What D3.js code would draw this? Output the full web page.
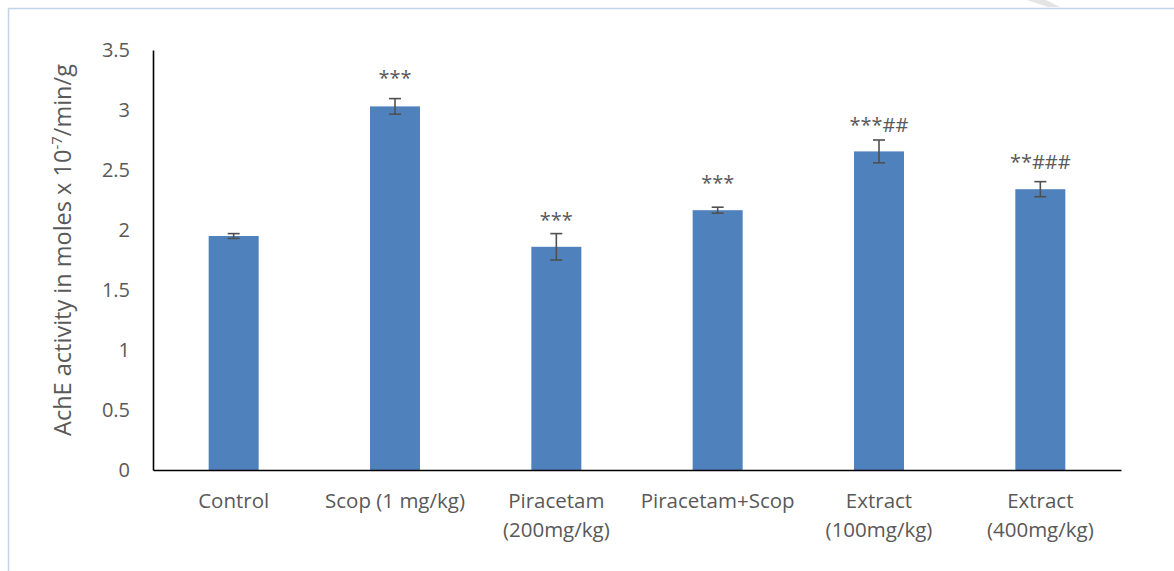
<!DOCTYPE html>
<html>
<head>
<meta charset="utf-8">
<script src="https://cdn.jsdelivr.net/npm/d3@7"></script>
<style>
  body { margin: 0; background: #fff; }
  text { font-family: "Open Sans", sans-serif; fill: #595959; }
</style>
</head>
<body>
<script>
var w = 1174;
var h = 571;

// data
var groups = [
  ["Control"],
  ["Scop (1 mg/kg)"],
  ["Piracetam", "(200mg/kg)"],
  ["Piracetam+Scop"],
  ["Extract", "(100mg/kg)"],
  ["Extract", "(400mg/kg)"]
];
var means = [1.95, 3.03, 1.86, 2.165, 2.655, 2.34];
var errs = [0.02, 0.065, 0.11, 0.025, 0.095, 0.063];
var marks = ["", "***", "***", "***", "***##", "**###"];
var markLevels = [0, 3.25, 2.07, 2.38, 2.86, 2.55];
var yTicks = [0, 0.5, 1, 1.5, 2, 2.5, 3, 3.5];

// plot area
var plotL = 153, plotR = 1121, plotT = 50, plotB = 470;

var svg = d3.select("body").append("svg")
  .attr("width", w)
  .attr("height", h);

// light frame of the figure box
svg.append("path")
  .attr("d", "M8.5,571 L8.5,8.5 L1174,8.5")
  .attr("fill", "none")
  .attr("stroke", "#c3d3e9")
  .attr("stroke-width", 1.5);

// faint diagonal mark at top right
svg.append("polygon")
  .attr("points", "1027,0 1046,0 1060,7 1048,7")
  .attr("fill", "#e4e4e4");

var x = d3.scaleBand()
  .domain(d3.range(groups.length))
  .range([plotL, plotR])
  .paddingInner(0.69)
  .paddingOuter(0.345);

var y = d3.scaleLinear()
  .domain([0, 3.5])
  .range([plotB, plotT]);

// bars
svg.append("g").selectAll("rect")
  .data(means)
  .enter()
  .append("rect")
  .attr("x", function(d, i) { return x(i); })
  .attr("y", function(d) { return y(d); })
  .attr("width", x.bandwidth())
  .attr("height", function(d) { return y(0) - y(d); })
  .attr("fill", "#4f81bd");

// error bars
var eb = svg.append("g").attr("stroke", "#505050").attr("stroke-width", 1.6);
means.forEach(function(m, i) {
  var cx = x(i) + x.bandwidth() / 2;
  var hi = y(m + errs[i]), lo = y(m - errs[i]);
  eb.append("line").attr("x1", cx).attr("x2", cx).attr("y1", hi).attr("y2", lo);
  eb.append("line").attr("x1", cx - 6).attr("x2", cx + 6).attr("y1", hi).attr("y2", hi);
  eb.append("line").attr("x1", cx - 6).attr("x2", cx + 6).attr("y1", lo).attr("y2", lo);
});

// significance marks
svg.append("g").selectAll("text")
  .data(marks)
  .enter()
  .append("text")
  .attr("x", function(d, i) { return x(i) + x.bandwidth() / 2; })
  .attr("y", function(d, i) { return y(markLevels[i]); })
  .attr("text-anchor", "middle")
  .attr("dominant-baseline", "middle")
  .style("font-size", "20px")
  .text(function(d) { return d; });

// y axis
var yAxis = svg.append("g")
  .attr("transform", "translate(" + plotL + ",0)")
  .call(d3.axisLeft(y).tickValues(yTicks).tickSize(0).tickPadding(23)
    .tickFormat(function(d) { return String(d); }));
yAxis.select(".domain").attr("stroke", "#000").attr("stroke-width", 1.6);
yAxis.selectAll("text").style("font-size", "20px").attr("fill", "#595959");

// x axis
var xAxis = svg.append("g")
  .attr("transform", "translate(0," + plotB + ")")
  .call(d3.axisBottom(x).tickSize(0).tickFormat(""));
xAxis.select(".domain").attr("stroke", "#000").attr("stroke-width", 1.6);

var xl = svg.append("g");
groups.forEach(function(lines, i) {
  var t = xl.append("text")
    .attr("x", x(i) + x.bandwidth() / 2)
    .attr("y", 508)
    .attr("text-anchor", "middle")
    .style("font-size", "20.5px");
  lines.forEach(function(s, k) {
    t.append("tspan")
      .attr("x", x(i) + x.bandwidth() / 2)
      .attr("dy", k === 0 ? 0 : 29)
      .text(s);
  });
});

// y axis title
var yt = svg.append("text")
  .attr("transform", "translate(71,250) rotate(-90)")
  .attr("text-anchor", "middle")
  .style("font-size", "23.5px");
yt.append("tspan").text("AchE activity in moles x 10");
yt.append("tspan").attr("dy", -9).style("font-size", "15px").text("-7");
yt.append("tspan").attr("dy", 9).text("/min/g");
</script>
</body>
</html>
